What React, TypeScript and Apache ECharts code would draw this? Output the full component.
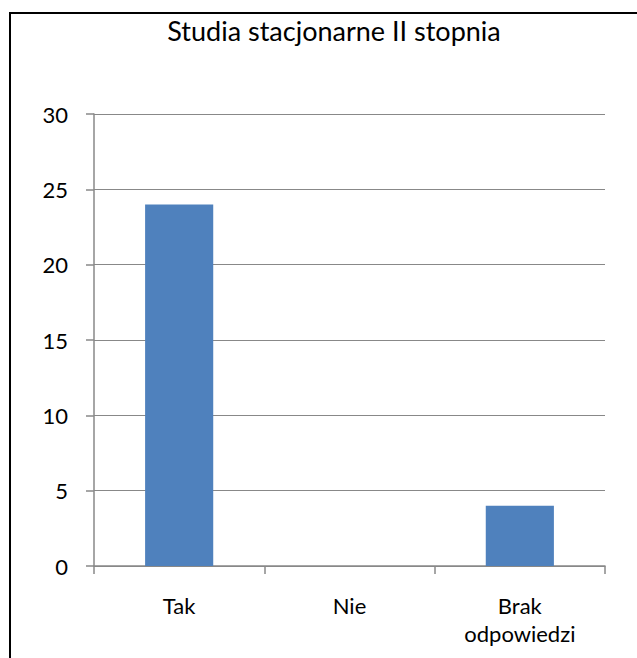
import React, { useEffect, useRef } from "react";
import * as echarts from "echarts";

const categories = ["Tak", "Nie", "Brak\nodpowiedzi"];
const values = [24, 0, 4];
const titleText = "Studia stacjonarne II stopnia";

export default function App() {
  const ref = useRef<HTMLDivElement>(null);
  useEffect(() => {
    const chart = echarts.init(ref.current!, null, { renderer: "svg" });
    const font = "Lato";
    chart.setOption({
      animation: false,
      backgroundColor: "#ffffff",
      title: {
        text: titleText,
        left: 329,
        top: 12,
        textAlign: "center",
        textStyle: { fontFamily: font, fontSize: 27, fontWeight: "normal", color: "#000" },
      },
      graphic: [
        {
          type: "rect",
          shape: { x: 10, y: 13, width: 700, height: 700 },
          style: { fill: "none", stroke: "#000", lineWidth: 2 },
          silent: true,
        },
      ],
      grid: { left: 94, right: 32, top: 114, bottom: 92, containLabel: false },
      xAxis: {
        type: "category",
        data: categories,
        axisLine: { lineStyle: { color: "#888888", width: 1.5 } },
        axisTick: { show: true, length: 8, lineStyle: { color: "#888888", width: 1.5 } },
        axisLabel: {
          fontFamily: font,
          fontSize: 22,
          color: "#000",
          margin: 25,
          lineHeight: 28,
        },
      },
      yAxis: {
        type: "value",
        min: 0,
        max: 30,
        interval: 5,
        axisLine: { show: true, lineStyle: { color: "#888888", width: 1.5 } },
        axisTick: { show: true, length: 8, lineStyle: { color: "#888888", width: 1.5 } },
        splitLine: { show: true, lineStyle: { color: "#888888", width: 1.2 } },
        axisLabel: { fontFamily: font, fontSize: 22, color: "#000", margin: 26 },
      },
      series: [
        {
          type: "bar",
          data: values,
          barWidth: "40%",
          itemStyle: { color: "#4F81BD" },
        },
      ],
    });
    return () => chart.dispose();
  }, []);
  return (
    <div
      ref={ref}
      style={{ position: "fixed", left: 0, top: 0, width: 637, height: 658 }}
    />
  );
}
